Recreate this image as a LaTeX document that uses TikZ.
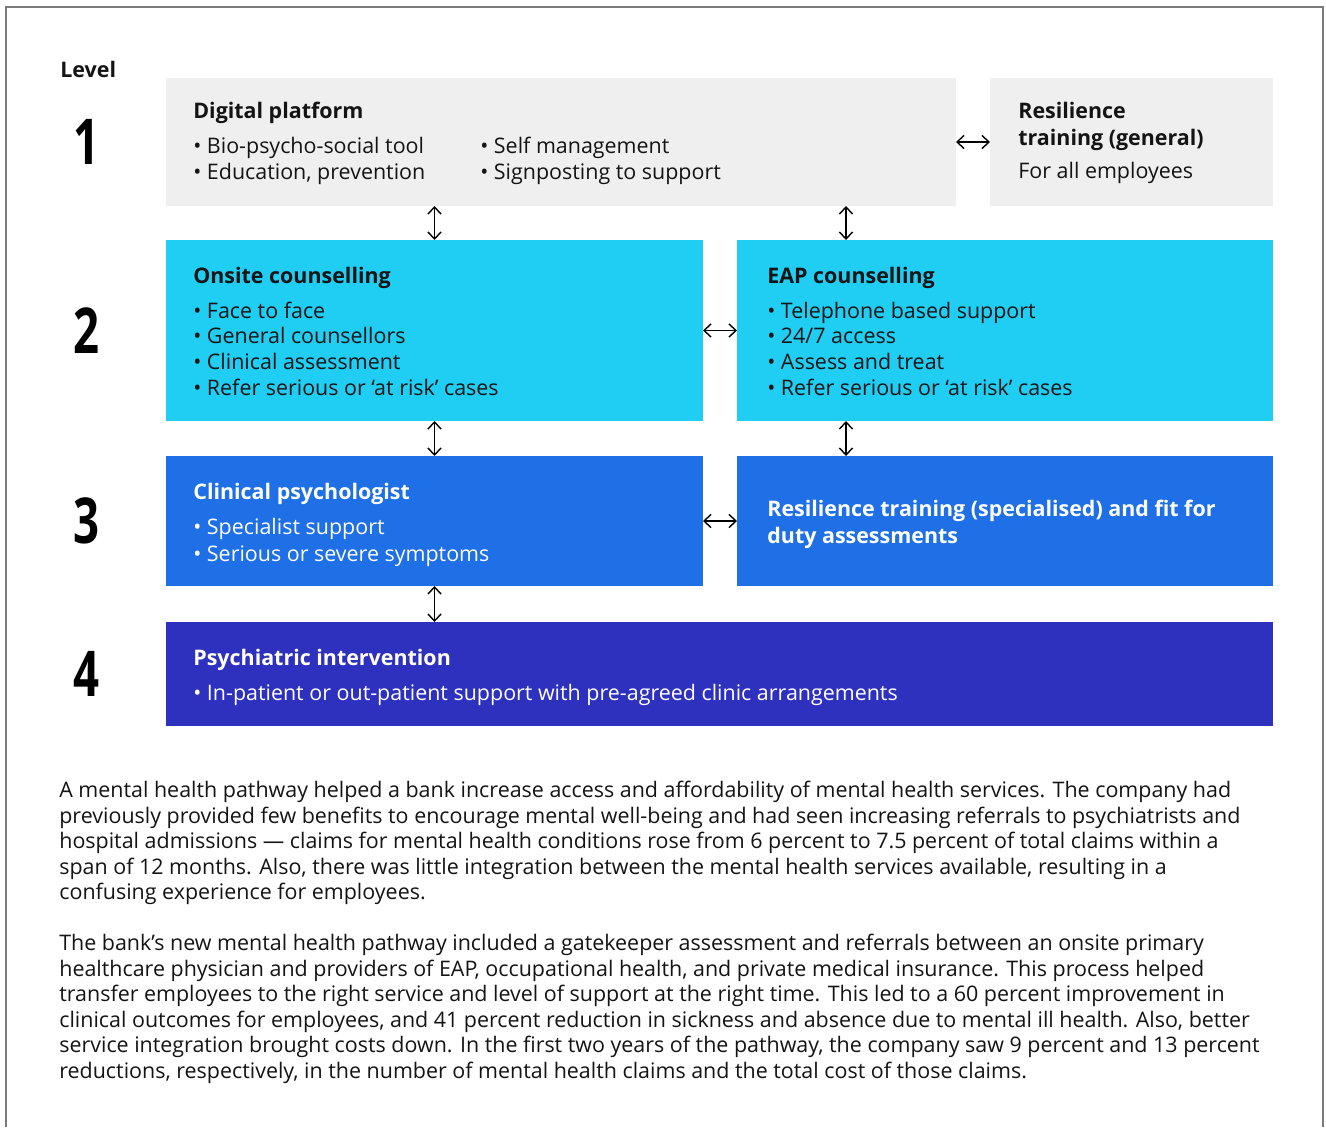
\documentclass[tikz,border=0pt]{standalone}
\usepackage{fontspec}
\setmainfont{Open Sans}
\usetikzlibrary{calc,arrows.meta}

\definecolor{panelgray}{HTML}{EFEFEF}
\definecolor{skyblue}{HTML}{20CEF4}
\definecolor{midblue}{HTML}{1F6FE6}
\definecolor{deepblue}{HTML}{2E30BE}
\definecolor{inkblack}{HTML}{141414}
\definecolor{framegray}{HTML}{7A7A7A}

\begin{document}
\begin{tikzpicture}[x=0.02cm,y=-0.02cm,
    panel/.style={draw=none,inner sep=0pt,outer sep=0pt,anchor=north west},
    body/.style={inner sep=0pt,anchor=north west,align=left,
      font=\fontsize{12.2}{14.6}\selectfont,text=inkblack},
    levelnum/.style={font=\fontsize{36}{36}\selectfont\bfseries,xscale=0.72,text=black},
    link/.style={line width=0.8pt,
      {Straight Barb[length=4pt,width=7.5pt]}-{Straight Barb[length=4pt,width=7.5pt]}}]

  \useasboundingbox (0,0) rectangle (1326,1127);
  % open frame round the figure
  \draw[framegray,line width=0.8pt] (6,1127) -- (6,7) -- (1323,7) -- (1323,1127);

  % panels, one per service
  \node[panel,fill=panelgray,minimum width=790*0.02cm,minimum height=128*0.02cm] (dig) at (166,78) {};
  \node[panel,fill=panelgray,minimum width=283*0.02cm,minimum height=128*0.02cm] (resg) at (990,78) {};
  \node[panel,fill=skyblue,minimum width=537*0.02cm,minimum height=181*0.02cm] (ons) at (166,240) {};
  \node[panel,fill=skyblue,minimum width=536*0.02cm,minimum height=181*0.02cm] (eap) at (737,240) {};
  \node[panel,fill=midblue,minimum width=537*0.02cm,minimum height=130*0.02cm] (clin) at (166,456) {};
  \node[panel,fill=midblue,minimum width=536*0.02cm,minimum height=130*0.02cm] (ress) at (737,456) {};
  \node[panel,fill=deepblue,minimum width=1107*0.02cm,minimum height=104*0.02cm] (psy) at (166,622) {};

  % level column
  \coordinate (levx) at (86,0);
  \node[body,font=\fontsize{12.2}{14}\selectfont\bfseries] (lvl) at (60,61) {Level};
  \node[levelnum] (lvlone) at (levx |- dig.west) {1};
  \node[levelnum] (lvltwo) at (levx |- ons.west) {2};
  \node[levelnum] (lvlthree) at (levx |- clin.west) {3};
  \node[levelnum] (lvlfour) at (levx |- psy.west) {4};

  % panel texts
  \node[body] (digtitle) at ($(dig.north west)+(27,24)$) {\bfseries Digital platform};
  \node[body] (digleft) at ($(dig.north west)+(27,59)$)
    {• Bio-psycho-social tool\\• Education, prevention};
  \node[body] (digright) at ($(dig.north west)+(314,59)$)
    {• Self management\\• Signposting to support};
  \node[body] (resgtext) at ($(resg.north west)+(28,24)$)
    {\bfseries Resilience\\[0.5pt]\bfseries training (general)\\[4.5pt]For all employees};
  \node[body] (onstext) at ($(ons.north west)+(27,27)$)
    {\bfseries Onsite counselling\\[5pt]• Face to face\\• General counsellors\\• Clinical assessment\\• Refer serious or ‘at risk’ cases};
  \node[body] (eaptext) at ($(eap.north west)+(30,27)$)
    {\bfseries EAP counselling\\[5pt]• Telephone based support\\• 24/7 access\\• Assess and treat\\• Refer serious or ‘at risk’ cases};
  \node[body,text=white] (clintext) at ($(clin.north west)+(27,27)$)
    {\bfseries Clinical psychologist\\[5.5pt]• Specialist support\\[0.5pt]• Serious or severe symptoms};
  \node[body,text=white] (resstext) at ($(ress.north west)+(30,44)$)
    {\bfseries Resilience training (specialised) and fit for\\[0.5pt]\bfseries duty assessments};
  \node[body,text=white] (psytext) at ($(psy.north west)+(27,27)$)
    {\bfseries Psychiatric intervention\\[5pt]• In-patient or out-patient support with pre-agreed clinic arrangements};

  % links between levels
  \coordinate (eaplink) at ($(eap.north west)+(109,0)$);
  \draw[link] (dig.east) -- (resg.west);
  \draw[link] (ons.north |- dig.south) -- (ons.north);
  \draw[link] (eaplink |- dig.south) -- (eaplink);
  \draw[link] (ons.east) -- (eap.west);
  \draw[link] (ons.south) -- (clin.north);
  \draw[link] (eaplink |- eap.south) -- (eaplink |- ress.north);
  \draw[link] (clin.east) -- (ress.west);
  \draw[link] (clin.south) -- (clin.south |- psy.north);

  % case notes below the diagram
  \node[body,font=\fontsize{12.2}{14.5}\selectfont] (casea) at (59,781)
    {A mental health pathway helped a bank increase access and affordability of mental health services. The company had\\
     previously provided few benefits to encourage mental well-being and had seen increasing referrals to psychiatrists and\\
     hospital admissions — claims for mental health conditions rose from 6 percent to 7.5 percent of total claims within a\\
     span of 12 months. Also, there was little integration between the mental health services available, resulting in a\\
     confusing experience for employees.};
  \node[body,font=\fontsize{12.2}{14.5}\selectfont] (caseb) at (59,934)
    {The bank’s new mental health pathway included a gatekeeper assessment and referrals between an onsite primary\\
     healthcare physician and providers of EAP, occupational health, and private medical insurance. This process helped\\
     transfer employees to the right service and level of support at the right time. This led to a 60 percent improvement in\\
     clinical outcomes for employees, and 41 percent reduction in sickness and absence due to mental ill health. Also, better\\
     service integration brought costs down. In the first two years of the pathway, the company saw 9 percent and 13 percent\\
     reductions, respectively, in the number of mental health claims and the total cost of those claims.};
\end{tikzpicture}
\end{document}
